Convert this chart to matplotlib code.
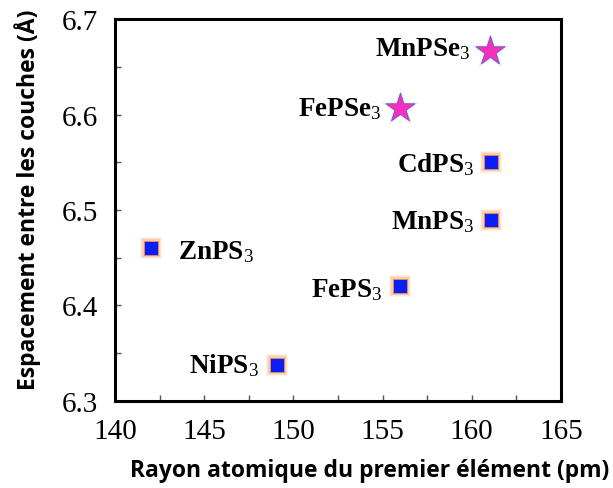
import matplotlib
matplotlib.use("Agg")
import matplotlib.pyplot as plt
from matplotlib.ticker import MultipleLocator

# Data
sulfides = ["ZnPS$_3$", "NiPS$_3$", "FePS$_3$", "MnPS$_3$", "CdPS$_3$"]
sulf_x = [142.0, 149.1, 156.0, 161.1, 161.1]
sulf_y = [6.46, 6.338, 6.42, 6.49, 6.55]

selenides = ["FePSe$_3$", "MnPSe$_3$"]
sel_x = [156.0, 161.0]
sel_y = [6.607, 6.667]

# label offsets in points (dx, dy, ha)
sulf_offsets = [(20, -2, "left"), (-13, 0, "right"), (-13, -2, "right"),
                (-12, -1, "right"), (-12, -1, "right")]
sel_offsets = [(-14, 0, "right"), (-14, 2, "right")]

plt.rcParams["font.family"] = "Liberation Serif"
plt.rcParams["mathtext.fontset"] = "custom"
plt.rcParams["mathtext.rm"] = "Liberation Serif"
plt.rcParams["mathtext.it"] = "Liberation Serif"

fig = plt.figure(figsize=(6.13, 4.89), dpi=100)
ax = fig.add_axes([0.1876, 0.178, 0.7274, 0.781])

# glow behind markers
for s, a in [(260, 0.12), (200, 0.2), (155, 0.3)]:
    ax.scatter(sulf_x, sulf_y, marker="s", s=s, color="#f7a35c", alpha=a,
               linewidths=0, zorder=2)
    ax.scatter(sel_x, sel_y, marker="*", s=s * 3.4, color="#7fa8f0", alpha=a,
               linewidths=0, zorder=2)

ax.scatter(sulf_x, sulf_y, marker="s", s=110, color="#0a1ef5",
           edgecolors="#e89050", linewidths=0.6, zorder=3)
ax.scatter(sel_x, sel_y, marker="*", s=480, color="#f72fbf",
           edgecolors="#7a4fc0", linewidths=0.6, zorder=3)

for name, x, y, (dx, dy, ha) in zip(sulfides, sulf_x, sulf_y, sulf_offsets):
    ax.annotate(name, (x, y), xytext=(dx, dy), textcoords="offset points",
                ha=ha, va="center", fontsize=19.5, fontweight="bold")
for name, x, y, (dx, dy, ha) in zip(selenides, sel_x, sel_y, sel_offsets):
    ax.annotate(name, (x, y), xytext=(dx, dy), textcoords="offset points",
                ha=ha, va="center", fontsize=19.5, fontweight="bold")

ax.set_xlim(140, 165)
ax.set_ylim(6.3, 6.7)
ax.xaxis.set_major_locator(MultipleLocator(5))
ax.xaxis.set_minor_locator(MultipleLocator(2.5))
ax.yaxis.set_major_locator(MultipleLocator(0.1))
ax.yaxis.set_minor_locator(MultipleLocator(0.05))
ax.tick_params(which="both", direction="in", length=4, width=1, color="#555555")
ax.tick_params(axis="both", labelsize=21, pad=12)
for sp in ax.spines.values():
    sp.set_linewidth(2.2)

ax.set_xlabel("Rayon atomique du premier élément (pm)", fontsize=16.5,
              fontweight="bold", family="Open Sans")
ax.set_ylabel("Espacement entre les couches (Å)", fontsize=16.5,
              fontweight="bold", family="Open Sans")
ax.xaxis.set_label_coords(0.57, -0.15)
ax.yaxis.set_label_coords(-0.165, 0.53)

fig.savefig("out.png", dpi=100)
